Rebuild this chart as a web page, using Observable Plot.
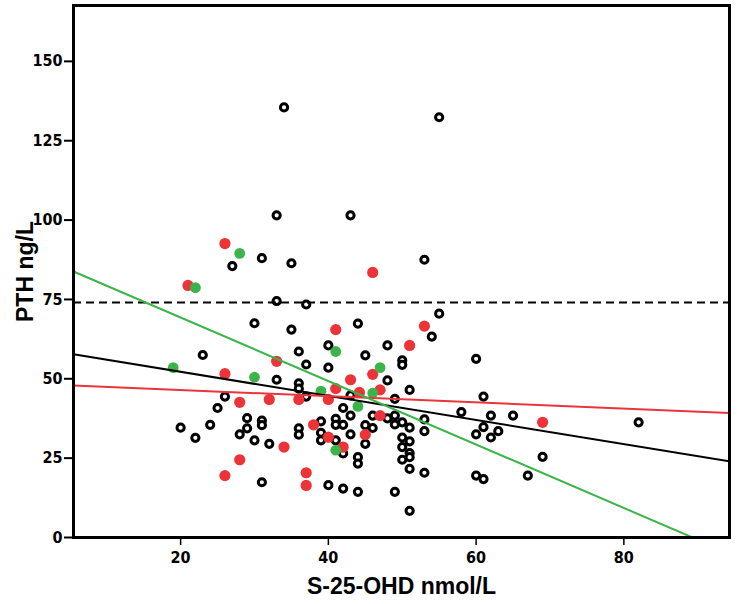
<!DOCTYPE html>
<html>
<head>
<meta charset="utf-8">
<script src="https://cdn.jsdelivr.net/npm/d3@7"></script>
<script src="https://cdn.jsdelivr.net/npm/@observablehq/plot@0.6"></script>
<style>
  html, body { margin: 0; padding: 0; background: #fff; }
  #chart svg { display: block; }
</style>
</head>
<body>
<div id="chart"></div>
<script>
// ---- Data ----
const xTicks = [20, 40, 60, 80];
const yTicks = [0, 25, 50, 75, 100, 125, 150];
const xLabel = "S-25-OHD nmol/L";
const yLabel = "PTH ng/L";

// open black circles: [S-25-OHD, PTH]
const blackPoints = [
  [34,135.5],[55,132.4],[33,101.5],[43,101.5],[31,88],[35,86.4],[27,85.5],[53,87.5],
  [33,74.5],[37,73.4],[30,67.5],[35,65.5],[44,67.4],[55,70.5],[54,63.3],[23,57.5],
  [36,58.6],[40,60.5],[48,60.5],[45,57.4],[37,54.5],[40,53.5],[50,55.8],[50,54.4],
  [60,56.3],[33,49.7],[36,48.6],[48,49.5],[36,46.9],[51,46.5],[26,44.4],[37,44.4],
  [43,44.8],[49,43.7],[61,44.4],[25,40.8],[42,40.8],
  [20,34.6],[22,31.4],[24,35.5],[29,37.6],[29,34.4],[28,32.5],[30,30.6],[31,36.8],
  [31,35.4],[32,29.5],[31,17.4],[36,34.4],[36,32.4],[39,36.6],[39,33],[39,30.6],
  [41,37.4],[41,35.5],[42,35.5],[43,38.4],[41,30.6],[43,32.5],[42,26.5],[40,16.5],
  [42,15.4],[44,14.4],[44,25.3],[44,23.3],[45,35.4],[45,29.5],[46,38.4],[46,34.5],
  [48,37.5],[49,38.4],[49,35.6],[50,36.3],[51,34.6],[50,31.5],[50,28.5],[51,30.3],
  [51,26.6],[51,25.3],[50,24.5],[51,21.6],[53,37.2],[53,33.5],[53,20.4],[49,14.4],
  [51,8.4],[58,39.5],[62,38.4],[65,38.4],[60,32.5],[61,34.8],[62,31.5],[63,33.5],
  [60,19.5],[61,18.4],[67,19.5],[69,25.4],[82,36.3]
];

// filled red circles
const redPoints = [
  [26,92.6],[46,83.5],[21,79.4],[41,65.5],[53,66.6],[51,60.5],[33,55.5],[26,51.6],
  [46,51.4],[43,49.7],[47,46.5],[41,46.9],[44.2,45.7],[28,42.6],[32,43.5],[36,43.5],
  [40,43.5],[47,38.4],[38,35.5],[45,32.4],[40,31.6],[42,28.5],[34,28.5],[28,24.5],
  [26,19.5],[37,20.4],[37,16.4],[69,36.3]
];

// filled green circles
const greenPoints = [
  [28,89.5],[22,78.7],[41,58.6],[19,53.5],[47,53.5],[30,50.5],[39,46.1],[46,45.5],
  [44,41.3],[41,27.5]
];

// fitted lines: intercept and slope for each group
const fitNames = ["all", "red", "green"];
const fitIntercepts = [59.8, 48.4, 89.3];
const fitSlopes = [-0.38, -0.097, -1.0];
const fitColors = ["#000000", "#e8363b", "#3bb44a"];

// reference line (upper limit)
const refLevel = [74];

// ---- Build ----
const xDomain = [5.5, 94.3];
const yDomain = [0, 167.6];

const fitMarks = fitNames.map((name, i) => {
  const pts = xDomain.map(x => ({x, y: fitIntercepts[i] + fitSlopes[i] * x}));
  return Plot.line(pts, {x: "x", y: "y", stroke: fitColors[i], strokeWidth: 2, clip: true});
});

const tickFont = "'DejaVu Sans Condensed', 'Liberation Sans Narrow', 'Liberation Sans', Arial, sans-serif";
const titleFont = "'Liberation Sans', Arial, sans-serif";

const chart = Plot.plot({
  width: 737,
  height: 604,
  marginLeft: 73,
  marginRight: 8,
  marginTop: 5,
  marginBottom: 67,
  style: {fontFamily: tickFont, background: "#fff", color: "#000"},
  x: {domain: xDomain},
  y: {domain: yDomain},
  marks: [
    Plot.dot(blackPoints, {x: d => d[0], y: d => d[1], r: 3.6, stroke: "#000", strokeWidth: 3, fill: "#fff"}),
    Plot.dot(redPoints, {x: d => d[0], y: d => d[1], r: 5.6, fill: "#ec3338", stroke: "none"}),
    Plot.dot(greenPoints, {x: d => d[0], y: d => d[1], r: 5.4, fill: "#3bb44a", stroke: "none"}),
    Plot.ruleY(refLevel, {stroke: "#000", strokeWidth: 2, strokeDasharray: "8,5"}),
    ...fitMarks,
    Plot.axisY({ticks: yTicks, tickSize: 9, tickPadding: 2, fontSize: 16, fontWeight: "bold", strokeWidth: 2, label: null}),
    Plot.axisX({ticks: xTicks, tickSize: 8, tickPadding: 6, fontSize: 16, fontWeight: "bold", strokeWidth: 1.5, label: null}),
    Plot.text([yLabel], {frameAnchor: "left", dx: -48, rotate: -90, textAnchor: "middle", lineAnchor: "middle", fontSize: 23, fontWeight: "bold", fontFamily: titleFont}),
    Plot.text([xLabel], {frameAnchor: "bottom", dy: 49, textAnchor: "middle", lineAnchor: "middle", fontSize: 23, fontWeight: "bold", fontFamily: titleFont}),
    Plot.frame({stroke: "#000", strokeWidth: 3})
  ]
});

document.getElementById("chart").appendChild(chart);
</script>
</body>
</html>
